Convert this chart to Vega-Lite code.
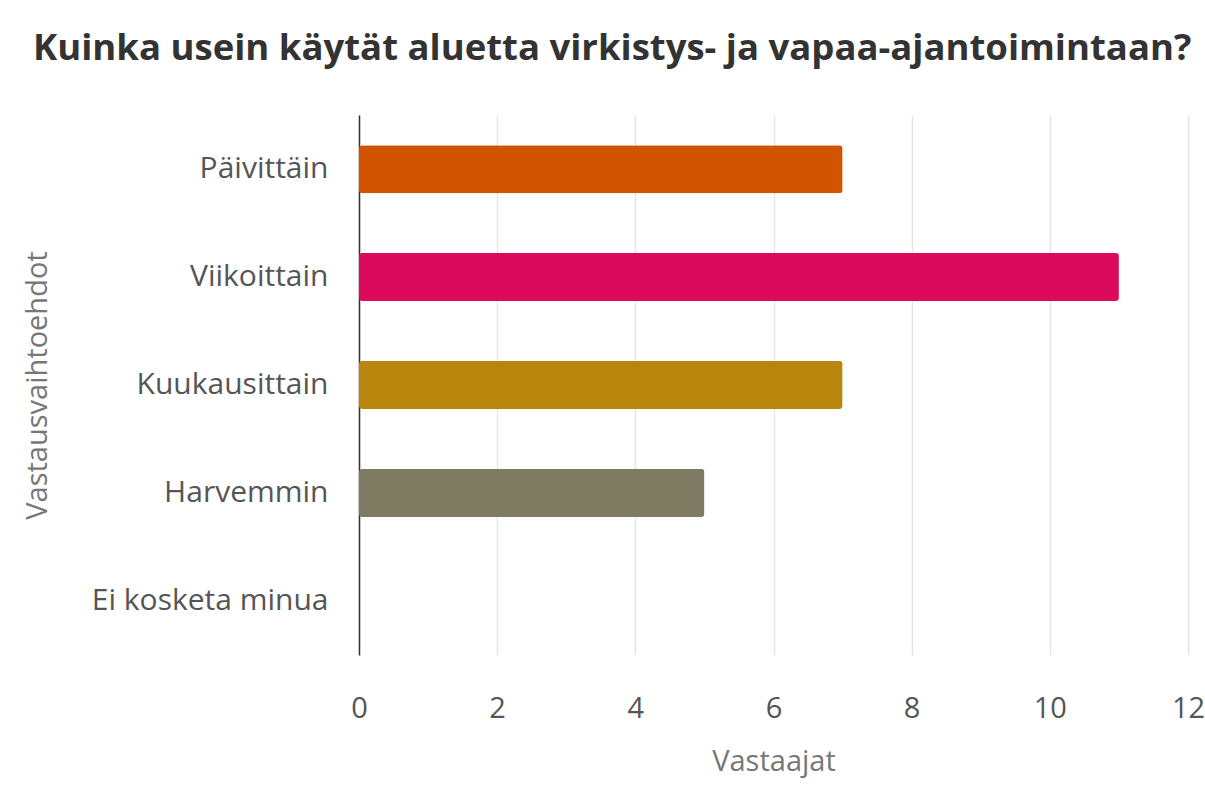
{
  "$schema": "https://vega.github.io/schema/vega-lite/v6.json",
  "autosize": {"type": "none"},
  "width": 829,
  "height": 540,
  "padding": {"left": 359, "top": 115, "right": 17, "bottom": 151},
  "background": "white",
  "title": {
    "text": "Kuinka usein käytät aluetta virkistys- ja vapaa-ajantoimintaan?",
    "anchor": "start",
    "frame": "group",
    "dx": -326,
    "offset": 19,
    "baseline": "alphabetic",
    "font": "Open Sans",
    "fontSize": 36.5,
    "fontWeight": "bold",
    "color": "#333333"
  },
  "data": {
    "values": [
      {"vaihtoehto": "Päivittäin", "vastaajat": 7},
      {"vaihtoehto": "Viikoittain", "vastaajat": 11},
      {"vaihtoehto": "Kuukausittain", "vastaajat": 7},
      {"vaihtoehto": "Harvemmin", "vastaajat": 5},
      {"vaihtoehto": "Ei kosketa minua", "vastaajat": 0}
    ]
  },
  "mark": {"type": "bar", "cornerRadius": 3},
  "encoding": {
    "y": {
      "field": "vaihtoehto",
      "type": "nominal",
      "sort": null,
      "scale": {"paddingInner": 0.555, "paddingOuter": 0.28},
      "axis": {
        "title": "Vastausvaihtoehdot",
        "domain": true,
        "domainColor": "#333333",
        "domainWidth": 1.5,
        "ticks": false,
        "labelPadding": 31,
        "labelLimit": 400,
        "labelFont": "Open Sans",
        "labelFontSize": 30,
        "labelColor": "#555555",
        "titleFont": "Open Sans",
        "titleFontSize": 29,
        "titleFontWeight": "normal",
        "titleColor": "#777777",
        "titlePadding": 107
      }
    },
    "x": {
      "field": "vastaajat",
      "type": "quantitative",
      "scale": {"domain": [0, 12]},
      "axis": {
        "title": "Vastaajat",
        "values": [0, 2, 4, 6, 8, 10, 12],
        "domain": false,
        "ticks": false,
        "grid": true,
        "gridColor": "#e6e6e6",
        "gridWidth": 1.5,
        "labelFlush": false,
        "labelPadding": 39,
        "labelFont": "Open Sans",
        "labelFontSize": 29,
        "labelColor": "#555555",
        "titleFont": "Open Sans",
        "titleFontSize": 29,
        "titleFontWeight": "normal",
        "titleColor": "#777777",
        "titlePadding": 24
      }
    },
    "color": {
      "field": "vaihtoehto",
      "type": "nominal",
      "scale": {
        "domain": ["Päivittäin", "Viikoittain", "Kuukausittain", "Harvemmin", "Ei kosketa minua"],
        "range": ["#D35400", "#DC0A5A", "#B8860B", "#7E7B63", "#999999"]
      },
      "legend": null
    }
  },
  "config": {"view": {"stroke": null}}
}
